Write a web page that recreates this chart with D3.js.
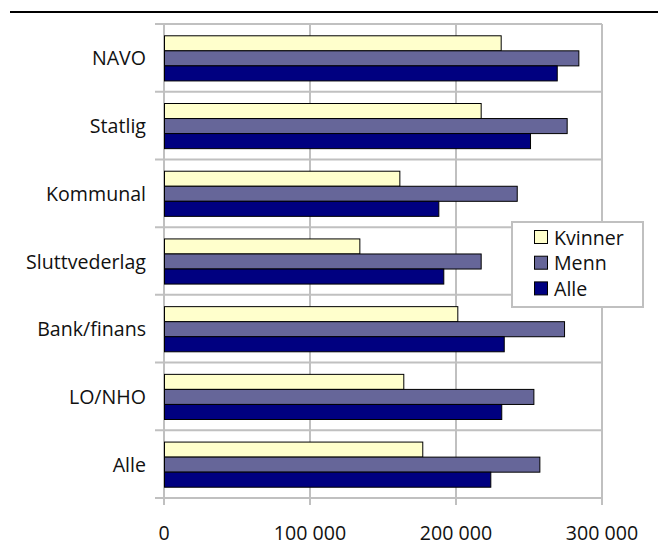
<!DOCTYPE html>
<html><head><meta charset="utf-8">
<script src="https://cdn.jsdelivr.net/npm/d3@7"></script>
<style>html,body{margin:0;padding:0;background:#fff;}svg{display:block;}</style>
</head><body>
<svg id="chart" width="658" height="555"></svg>
<script>
const categories = ["NAVO", "Statlig", "Kommunal", "Sluttvederlag", "Bank/finans", "LO/NHO", "Alle"];
const seriesNames = ["Kvinner", "Menn", "Alle"];
const kvinner = [230600, 216900, 161200, 133800, 200900, 163900, 176900];
const menn    = [283800, 275800, 241600, 216900, 274000, 253000, 257100];
const alle    = [269000, 250700, 187900, 191300, 232700, 231000, 223500];
const xTicks = [0, 100000, 200000, 300000];
const colors = ["#FFFFCC", "#666699", "#000080"];

const series = [kvinner, menn, alle];
const svg = d3.select("#chart");
const font = "'Open Sans', sans-serif";
const fs = 19.6;
const L = 164, R = 602, T = 24, B = 498;

// top rule
svg.append("line").attr("x1", 10).attr("x2", 658).attr("y1", 12).attr("y2", 12)
  .attr("stroke", "#000").attr("stroke-width", 2);

const x = d3.scaleLinear().domain([0, 300000]).range([L, R]);
const y = d3.scaleBand().domain(categories).range([T, B]).paddingInner(1/3).paddingOuter(1/6);
const yi = d3.scaleBand().domain(seriesNames).range([0, y.bandwidth()]);
const step = y.step();
const grid = "#C0C0C0";

// horizontal gridlines at category boundaries (with ticks)
const bounds = d3.range(categories.length + 1).map(i => T + i * step);
svg.append("g").selectAll("line").data(bounds).join("line")
  .attr("x1", 155).attr("x2", R).attr("y1", d => d).attr("y2", d => d)
  .attr("stroke", grid).attr("stroke-width", 2);

// vertical gridlines + bottom ticks
svg.append("g").selectAll("line").data(xTicks).join("line")
  .attr("x1", d => x(d)).attr("x2", d => x(d)).attr("y1", T).attr("y2", 505)
  .attr("stroke", grid).attr("stroke-width", 2);

// bars
const rows = categories.map((c, i) => ({c, vals: series.map((s, j) => ({name: seriesNames[j], v: s[i], color: colors[j]}))}));
const g = svg.append("g").selectAll("g").data(rows).join("g")
  .attr("transform", d => `translate(0,${y(d.c)})`);
g.selectAll("rect").data(d => d.vals).join("rect")
  .attr("x", x(0) + 0.5).attr("y", d => yi(d.name) + 0.5)
  .attr("width", d => x(d.v) - x(0)).attr("height", yi.bandwidth())
  .attr("fill", d => d.color).attr("stroke", "#000").attr("stroke-width", 1);

// category labels
svg.append("g").selectAll("text").data(categories).join("text")
  .attr("x", 146).attr("y", d => y(d) + y.bandwidth() / 2)
  .attr("text-anchor", "end").attr("dominant-baseline", "central")
  .attr("font-family", font).attr("font-size", fs).attr("fill", "#111").text(d => d);

// x tick labels
const fmt = v => d3.format(",")(v).replace(/,/g, "\u00a0");
svg.append("g").selectAll("text").data(xTicks).join("text")
  .attr("x", d => x(d)).attr("y", 532)
  .attr("text-anchor", "middle").attr("dominant-baseline", "central")
  .attr("font-family", font).attr("font-size", fs).attr("fill", "#111").text(d => fmt(d));

// legend
const lg = svg.append("g");
lg.append("rect").attr("x", 512).attr("y", 222).attr("width", 131).attr("height", 85)
  .attr("fill", "#fff").attr("stroke", grid).attr("stroke-width", 2);
const li = lg.selectAll("g").data(seriesNames).join("g")
  .attr("transform", (d, i) => `translate(534,${237 + i * 25.7})`);
li.append("rect").attr("x", 0.5).attr("y", -6.5).attr("width", 13).attr("height", 13)
  .attr("fill", (d, i) => colors[i]).attr("stroke", "#000").attr("stroke-width", 1);
li.append("text").attr("x", 20).attr("y", 0).attr("dominant-baseline", "central")
  .attr("font-family", font).attr("font-size", fs).attr("fill", "#111").text(d => d);
</script>
</body></html>
